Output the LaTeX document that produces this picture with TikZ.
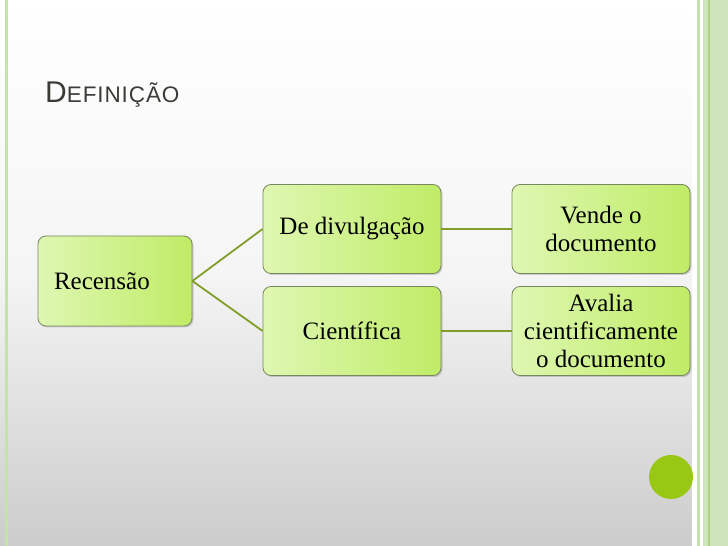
\documentclass[tikz,border=0pt]{standalone}
\usepackage{fontspec}
\setmainfont{Liberation Serif}
\newfontfamily\titlefont{Liberation Sans}
\usetikzlibrary{shadows}
\definecolor{bgbot}{RGB}{204,204,204}
\definecolor{boxA}{RGB}{222,247,178}
\definecolor{boxB}{RGB}{192,236,102}
\definecolor{boxline}{RGB}{120,135,95}
\definecolor{conn}{RGB}{128,158,40}
\definecolor{dot}{RGB}{152,200,20}
\definecolor{bandg}{RGB}{206,228,186}
\definecolor{bandline}{RGB}{172,210,130}
\definecolor{edgeg}{RGB}{196,226,170}
\definecolor{titlec}{RGB}{60,60,55}
\tikzset{
  boxnode/.style={draw=boxline, line width=0.8pt, rounded corners=8pt,
    left color=boxA, right color=boxB, minimum width=178pt, minimum height=89pt,
    font=\fontsize{25}{28}\selectfont, align=center, inner sep=2pt,
    drop shadow={opacity=0.35, shadow xshift=1.5pt, shadow yshift=-1.5pt}},
  connline/.style={draw=conn, line width=1.8pt}
}
\begin{document}
\begin{tikzpicture}[x=1pt,y=1pt]
\useasboundingbox (0,0) rectangle (728,546);
% background
\shade[top color=white, bottom color=bgbot, middle color=white!96!black] (0,0) rectangle (728,546);
% left edge line
\fill[edgeg] (4.5,0) rectangle (7.5,546);
% right band
\fill[white] (692,0) rectangle (703,546);
\fill[edgeg] (696.5,0) rectangle (699.5,546);
\fill[bandg] (703,0) rectangle (728,546);
\fill[bandline] (707.5,0) rectangle (710,546);
% title
\node[anchor=base west, inner sep=0pt, text=titlec] (title) at (45,443)
  {\titlefont\addfontfeature{LetterSpace=4}\fontsize{30}{32}\selectfont D\fontsize{22.5}{26}\selectfont EFINIÇÃO};
% nodes
\node[boxnode, minimum width=154pt, minimum height=90pt, text width=122pt, align=left] (rec) at (115,265) {Recensão};
\node[boxnode] (div) at (352,317) {De divulgação};
\node[boxnode] (cie) at (352,215) {Científica};
\node[boxnode] (ven) at (601,317) {Vende o\\documento};
\node[boxnode] (ava) at (601,215) {Avalia\\cientificamente\\o documento};
% connectors
\draw[connline] (rec.east) -- (div.west);
\draw[connline] (rec.east) -- (cie.west);
\draw[connline] (div.east) -- (ven.west);
\draw[connline] (cie.east) -- (ava.west);
% dot
\fill[dot] (671,69) circle (22);
\end{tikzpicture}
\end{document}
